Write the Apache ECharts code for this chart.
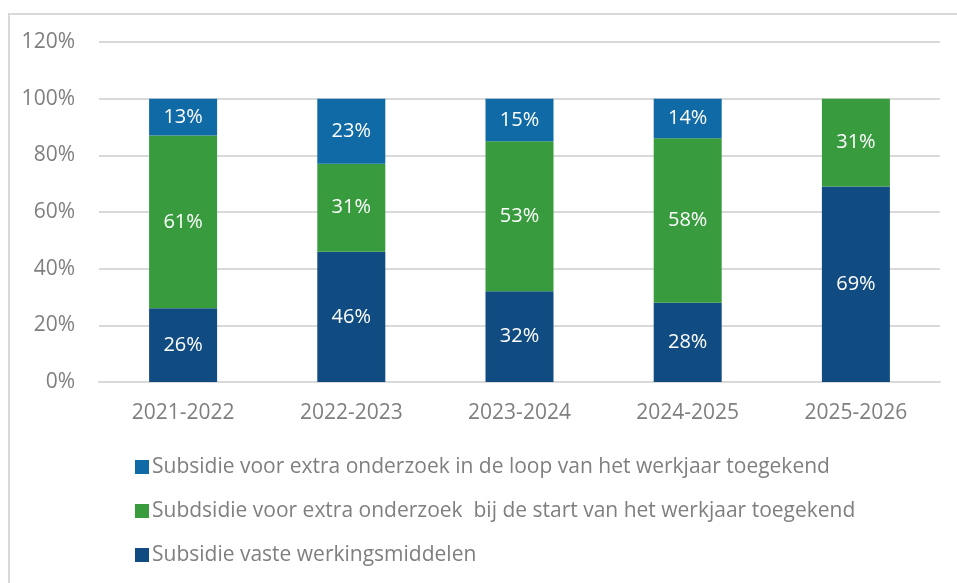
<!DOCTYPE html>
<html>
<head>
<meta charset="utf-8">
<script src="https://cdn.jsdelivr.net/npm/echarts@6/dist/echarts.min.js"></script>
<style>
  html, body { margin: 0; padding: 0; background: #fff; }
  #main { width: 957px; height: 583px; }
</style>
</head>
<body>
<div id="main"></div>
<script>
var years = ['2021-2022', '2022-2023', '2023-2024', '2024-2025', '2025-2026'];
var vasteMiddelen = [26, 46, 32, 28, 69];
var extraStart = [61, 31, 53, 58, 31];
var extraLoop = [13, 23, 15, 14, null];
var yTicks = [0, 20, 40, 60, 80, 100, 120];

var names = [
	'Subsidie voor extra onderzoek in de loop van het werkjaar toegekend',
	'Subdsidie voor extra onderzoek  bij de start van het werkjaar toegekend',
	'Subsidie vaste werkingsmiddelen'
];

var font = '"Open Sans", "Noto Sans", sans-serif';
var grey = '#7F7F7F';

var myChart = echarts.init(document.getElementById('main'));

function label() {
	return {
		show: true,
		position: 'inside',
		color: '#fff',
		fontSize: 20,
		fontFamily: font,
		formatter: function (p) { return p.value ? p.value + '%' : ''; }
	};
}

var option = {
	animation: false,
	graphic: [{
		type: 'rect',
		shape: { x: 9, y: 14, width: 980, height: 600 },
		style: { fill: 'none', stroke: '#D9D9D9', lineWidth: 2 },
		silent: true
	}],
	grid: { left: 99, right: 17, top: 42, bottom: 201 },
	legend: {
		orient: 'vertical',
		left: 130,
		top: 451,
		itemGap: 22,
		itemWidth: 14,
		itemHeight: 14,
		icon: 'rect',
		data: names,
		textStyle: { color: grey, fontSize: 21, lineHeight: 22, fontFamily: font, padding: [0, 0, 0, -2] }
	},
	xAxis: {
		type: 'category',
		data: years,
		axisLine: { lineStyle: { color: '#D9D9D9', width: 2 } },
		axisTick: { show: false },
		axisLabel: { color: grey, fontSize: 21, fontFamily: font, margin: 21 }
	},
	yAxis: {
		type: 'value',
		min: yTicks[0],
		max: yTicks[yTicks.length - 1],
		interval: 20,
		axisLine: { show: false },
		axisTick: { show: false },
		splitLine: { lineStyle: { color: '#D9D9D9', width: 2 } },
		axisLabel: { color: grey, fontSize: 21, fontFamily: font, margin: 24, formatter: '{value}%' }
	},
	series: [{
		name: names[2],
		type: 'bar',
		stack: 'a',
		barWidth: 68,
		data: vasteMiddelen,
		itemStyle: { color: '#104C81' },
		label: label()
	}, {
		name: names[1],
		type: 'bar',
		stack: 'a',
		barWidth: 68,
		data: extraStart,
		itemStyle: { color: '#389C3E' },
		label: label()
	}, {
		name: names[0],
		type: 'bar',
		stack: 'a',
		barWidth: 68,
		data: extraLoop,
		itemStyle: { color: '#106AA6' },
		label: label()
	}]
};

myChart.setOption(option);
</script>
</body>
</html>
